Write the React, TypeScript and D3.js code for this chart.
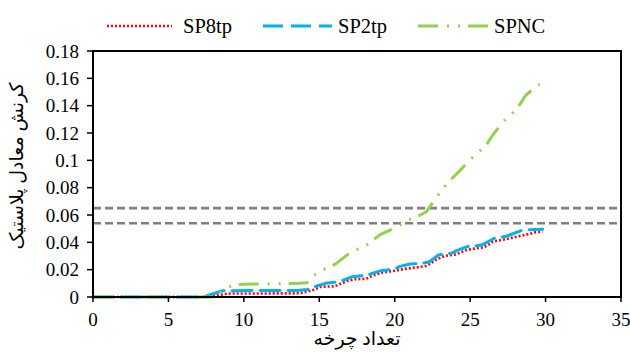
import React from "react";
import * as d3 from "d3";

const seriesNames = ["SP8tp", "SP2tp", "SPNC"];
const seriesColors = ["#FF0000", "#00B0F0", "#92D050"];

const sp8tpX = [0, 7.6, 8.9, 13.7, 14.2, 14.6, 15.1, 16.0, 16.9, 17.4, 18.1, 18.5, 18.8, 19.1, 20.1, 20.6, 21.1, 21.5, 22.1, 22.3, 22.7, 23.3, 24.0, 24.4, 24.8, 25.9, 26.2, 26.5, 27.4, 28.0, 29.0, 29.3, 29.8];
const sp8tpY = [0, 0, 0.0025, 0.0027, 0.0040, 0.0052, 0.0075, 0.0078, 0.0119, 0.0130, 0.0133, 0.0154, 0.0166, 0.0178, 0.0193, 0.0205, 0.0212, 0.0217, 0.0227, 0.0241, 0.0270, 0.0300, 0.0310, 0.0327, 0.0346, 0.0364, 0.0380, 0.0405, 0.0424, 0.0439, 0.0463, 0.0473, 0.0478];

const sp2tpX = [0, 7.3, 8.6, 13.5, 14.2, 14.7, 15.4, 16.2, 16.6, 17.2, 18.2, 18.5, 19.1, 20.0, 20.3, 21.0, 21.9, 22.3, 22.9, 23.8, 24.1, 24.8, 25.7, 26.0, 26.6, 27.4, 27.8, 28.5, 29.8];
const sp2tpY = [0, 0, 0.0046, 0.0048, 0.0055, 0.0075, 0.0100, 0.0110, 0.0124, 0.0149, 0.0158, 0.0173, 0.0193, 0.0203, 0.0222, 0.0241, 0.0248, 0.0258, 0.0307, 0.0322, 0.0339, 0.0368, 0.0378, 0.0393, 0.0429, 0.0445, 0.0461, 0.0490, 0.0495];

const spncX = [0, 8.2, 8.6, 9.3, 10.0, 13.7, 14.2, 14.5, 15.0, 15.7, 16.2, 17.2, 17.9, 18.5, 19.0, 20.2, 20.8, 21.5, 22.1, 22.8, 23.2, 23.7, 24.2, 25.1, 25.6, 26.1, 26.5, 27.2, 27.8, 28.3, 28.7, 29.6];
const spncY = [0, 0, 0.0051, 0.0088, 0.0093, 0.0100, 0.0105, 0.0144, 0.0190, 0.0217, 0.0251, 0.0339, 0.0361, 0.0410, 0.0454, 0.0515, 0.0560, 0.0588, 0.0624, 0.0734, 0.0795, 0.0856, 0.0912, 0.1015, 0.1063, 0.1117, 0.1185, 0.1283, 0.1344, 0.1410, 0.1478, 0.1558];

const limitLines = [0.065, 0.054];

const xTicks = [0, 5, 10, 15, 20, 25, 30, 35];
const yTicks = [0, 0.02, 0.04, 0.06, 0.08, 0.1, 0.12, 0.14, 0.16, 0.18];

const xTitle = "تعداد چرخه";
const yTitle = "کرنش معادل پلاستیک";

const FONT = "Liberation Serif";
const AFONT = "Liberation Serif, Noto Sans, DejaVu Sans";

export default function App() {
  const W = 630, H = 352;
  const L = 93, R = 621, T = 51, B = 297;
  const x = d3.scaleLinear().domain([0, 35]).range([L, R]);
  const y = d3.scaleLinear().domain([0, 0.18]).range([B, T]);

  const line = d3
    .line<[number, number]>()
    .x((d) => x(d[0]))
    .y((d) => y(d[1]));

  const series = [
    { xs: sp8tpX, ys: sp8tpY, dash: "2,2", width: 2.6, cap: "butt" },
    { xs: sp2tpX, ys: sp2tpY, dash: "20,8", width: 3, cap: "round" },
    { xs: spncX, ys: spncY, dash: "20,9,2,9,2,8", width: 3, cap: "butt" },
  ];

  const legendItems = [
    { x1: 107, x2: 172, tx: 183 },
    { x1: 263, x2: 332, tx: 338 },
    { x1: 418, x2: 490, tx: 494 },
  ];

  const fmt = (v: number) => String(+v.toFixed(2));

  return (
    <div style={{ position: "fixed", left: 0, top: 0 }}>
      <svg width={W} height={H} style={{ display: "block", background: "#fff", fontFamily: FONT }}>
        <rect x={0} y={0} width={W} height={H} fill="#fff" />
        {limitLines.map((v, i) => (
          <line key={i} x1={L} x2={R} y1={y(v)} y2={y(v)} stroke="#808080" strokeWidth={2.6} strokeDasharray="8,4" />
        ))}
        {series.map((s, i) => (
          <path
            key={i}
            d={line(s.xs.map((v, j) => [v, s.ys[j]] as [number, number])) || ""}
            fill="none"
            stroke={seriesColors[i]}
            strokeWidth={s.width}
            strokeDasharray={s.dash}
            strokeLinejoin="round"
            strokeLinecap={s.cap as any}
          />
        ))}
        <rect x={L} y={T} width={R - L} height={B - T} fill="none" stroke="#000" strokeWidth={2} />
        {yTicks.map((t) => (
          <g key={t}>
            <line x1={L - 6} x2={L} y1={y(t)} y2={y(t)} stroke="#000" strokeWidth={1.5} />
            <text x={L - 14} y={y(t)} dy="0.35em" textAnchor="end" fontSize={19} style={{ fontFamily: FONT }}>
              {fmt(t)}
            </text>
          </g>
        ))}
        {xTicks.map((t) => (
          <g key={t}>
            <line x1={x(t)} x2={x(t)} y1={B} y2={B + 5} stroke="#000" strokeWidth={1.5} />
            <text x={x(t)} y={B + 29} textAnchor="middle" fontSize={19} style={{ fontFamily: FONT }}>
              {t}
            </text>
          </g>
        ))}
        <text x={357} y={345} textAnchor="middle" fontSize={19} direction="rtl" style={{ fontFamily: AFONT }}>
          {xTitle}
        </text>
        <text
          transform={`translate(23, ${(T + B) / 2 - 8}) rotate(-90)`}
          textAnchor="middle"
          fontSize={19}
          direction="rtl"
          style={{ fontFamily: AFONT }}
        >
          {yTitle}
        </text>
        {legendItems.map((it, i) => (
          <g key={i}>
            <line
              x1={it.x1}
              x2={it.x2}
              y1={26}
              y2={26}
              stroke={seriesColors[i]}
              strokeWidth={series[i].width}
              strokeDasharray={series[i].dash}
            />
            <text x={it.tx} y={26} dy="0.35em" fontSize={20.5} style={{ fontFamily: FONT }}>
              {seriesNames[i]}
            </text>
          </g>
        ))}
      </svg>
    </div>
  );
}
